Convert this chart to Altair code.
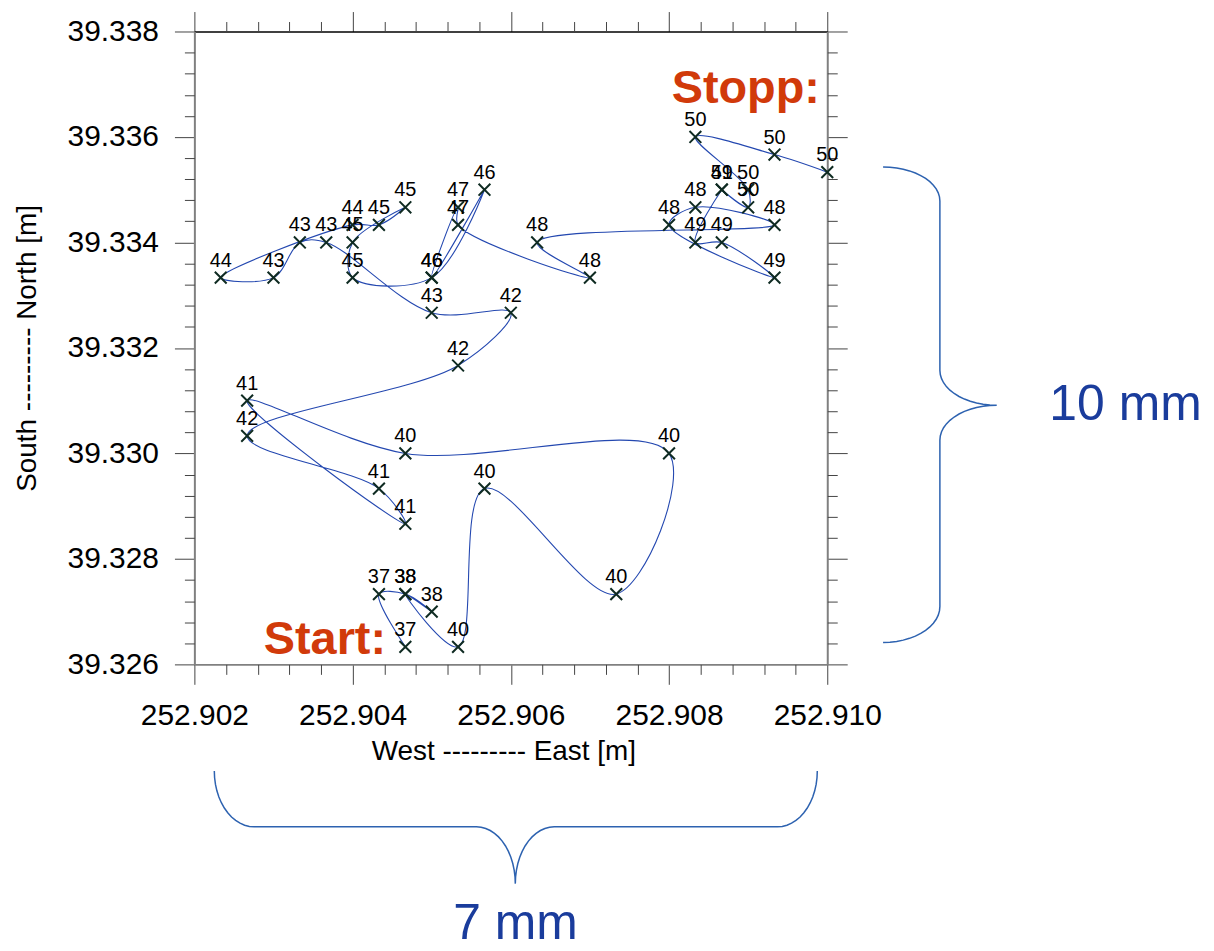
import altair as alt
import pandas as pd
import numpy as np

# ---------------- data ----------------
track_x = [252.904667, 252.904333, 252.904667, 252.905000, 252.904667,
           252.905333, 252.905667, 252.907333, 252.908000, 252.904667,
           252.902667, 252.904667, 252.904333,
           252.902667, 252.905333, 252.906000,
           252.905000, 252.903667, 252.903333, 252.903000,
           252.902333, 252.904000,
           252.904333, 252.904667, 252.904000, 252.904000,
           252.905000, 252.905667, 252.905000,
           252.905333, 252.905333,
           252.907000, 252.906333, 252.909333, 252.908333, 252.908000,
           252.909333, 252.908667, 252.908333, 252.908667,
           252.908667, 252.909000, 252.909000, 252.908333, 252.909333, 252.910000]
track_y = [39.326333, 39.327333, 39.327333, 39.327000, 39.327333,
           39.326333, 39.329333, 39.327333, 39.330000, 39.330000,
           39.331000, 39.328667, 39.329333,
           39.330333, 39.331667, 39.332667,
           39.332667, 39.334000, 39.334000, 39.333333,
           39.333333, 39.334333,
           39.334333, 39.334667, 39.334000, 39.333333,
           39.333333, 39.335000, 39.333333,
           39.334667, 39.334333,
           39.333333, 39.334000, 39.334333, 39.334667, 39.334333,
           39.333333, 39.334000, 39.334000, 39.335000,
           39.335000, 39.334667, 39.335000, 39.336000, 39.335667, 39.335333]
track_label = ["37", "37", "38", "38", "38",
               "40", "40", "40", "40", "40",
               "41", "41", "41",
               "42", "42", "42",
               "43", "43", "43", "43",
               "44", "44",
               "45", "45", "45", "45",
               "46", "46", "46",
               "47", "47",
               "48", "48", "48", "48", "48",
               "49", "49", "49", "49",
               "51", "50", "50", "50", "50", "50"]

x_major = [252.902, 252.904, 252.906, 252.908, 252.910]
x_minor = [252.9024, 252.9028, 252.9032, 252.9036, 252.9044, 252.9048, 252.9052,
           252.9056, 252.9064, 252.9068, 252.9072, 252.9076, 252.9084, 252.9088,
           252.9092, 252.9096]
y_major = [39.326, 39.328, 39.330, 39.332, 39.334, 39.336, 39.338]
y_minor = [39.3264, 39.3268, 39.3272, 39.3276, 39.3284, 39.3288, 39.3292, 39.3296,
           39.3304, 39.3308, 39.3312, 39.3316, 39.3324, 39.3328, 39.3332, 39.3336,
           39.3344, 39.3348, 39.3352, 39.3356, 39.3364, 39.3368, 39.3372, 39.3376]

ann_text = ["Start:", "Stopp:"]
ann_x = [252.90365, 252.90897]
ann_y = [39.32647, 39.33690]

dim_text = ["10 mm", "7 mm"]
dim_x = [252.91377, 252.90606]
dim_y = [39.33091, 39.32107]

FONT = "Liberation Sans"
W, H = 635, 635
X0, X1 = 252.902, 252.910
Y0, Y1 = 39.326, 39.338


# ---------------- brace decoration (page pixel -> data units) ----------------
def to_data(px, py):
    return X0 + (px - 195) / W * (X1 - X0), Y1 - (py - 30) / H * (Y1 - Y0)


t = np.linspace(0, np.pi / 2, 14)
right_px = np.concatenate([
    np.c_[886 + 57 * np.sin(t), 200 - 34 * np.cos(t)],
    np.c_[1000 - 57 * np.cos(t), 370 + 35 * np.sin(t)],
    np.c_[1000 - 57 * np.sin(t), 440 - 35 * np.cos(t)],
    np.c_[886 + 57 * np.cos(t), 607 + 36 * np.sin(t)],
])
bottom_px = np.concatenate([
    np.c_[255 - 40 * np.cos(t), 772 + 56 * np.sin(t)],
    np.c_[478 + 39 * np.sin(t), 885 - 57 * np.cos(t)],
    np.c_[556 - 39 * np.cos(t), 885 - 57 * np.sin(t)],
    np.c_[780 + 40 * np.sin(t), 772 + 56 * np.cos(t)],
])
rows = []
for bid, arr in (("r", right_px), ("b", bottom_px)):
    for i, (px, py) in enumerate(arr):
        dx, dy = to_data(px, py)
        rows.append({"x": dx, "y": dy, "brace": bid, "order": i})
brace_df = pd.DataFrame(rows)

df = pd.DataFrame({"x": track_x, "y": track_y, "t": track_label,
                   "order": list(range(len(track_x)))})
ann_df = pd.DataFrame({"x": ann_x, "y": ann_y, "text": ann_text})
dim_df = pd.DataFrame({"x": dim_x, "y": dim_y, "text": dim_text})

XS = alt.Scale(domain=[X0, X1], nice=False, zero=False)
YS = alt.Scale(domain=[Y0, Y1], nice=False, zero=False)

TICK_COLOR = "#444444"
DOMAIN_COLOR = "#808080"

ax_bottom = alt.Axis(orient="bottom", values=x_major, format=".3f", tickSize=20,
                     tickColor=TICK_COLOR, tickWidth=1, domainColor=DOMAIN_COLOR,
                     domainWidth=2, grid=False, labelFont=FONT, labelFontSize=30,
                     labelColor="black", labelPadding=16, labelFlush=False,
                     labelOverlap=False, labelBound=False,
                     title="West --------- East [m]", titleFont=FONT, titleFontSize=28,
                     titleFontWeight="normal", titleColor="black", titleX=310, titleY=87,
                     titleAlign="center", titleBaseline="middle")
ax_left = alt.Axis(orient="left", values=y_major, format=".3f", tickSize=20,
                   tickColor=TICK_COLOR, tickWidth=1, domainColor=DOMAIN_COLOR,
                   domainWidth=2, grid=False, labelFont=FONT, labelFontSize=30,
                   labelColor="black", labelPadding=16, labelFlush=False,
                   labelOverlap=False, labelBound=False,
                   title="South --------- North [m]", titleFont=FONT, titleFontSize=28,
                   titleFontWeight="normal", titleColor="black", titleX=-167,
                   titleY=317.5, titleAngle=270, titleAlign="center",
                   titleBaseline="middle")
ax_bottom_minor = alt.Axis(orient="bottom", values=x_minor, tickSize=10,
                           tickColor=TICK_COLOR, labels=False, domain=False,
                           grid=False, title=None)
ax_left_minor = alt.Axis(orient="left", values=y_minor, tickSize=10,
                         tickColor=TICK_COLOR, labels=False, domain=False,
                         grid=False, title=None)
ax_top = alt.Axis(orient="top", values=x_major, tickSize=20, tickColor=TICK_COLOR,
                  labels=False, domain=True, domainColor="black", domainWidth=1.5,
                  grid=False, title=None)
ax_right = alt.Axis(orient="right", values=y_major, tickSize=20, tickColor=TICK_COLOR,
                    labels=False, domain=True, domainColor=DOMAIN_COLOR, domainWidth=2,
                    grid=False, title=None)
ax_top_minor = alt.Axis(orient="top", values=x_minor, tickSize=10, tickColor=TICK_COLOR,
                        labels=False, domain=False, grid=False, title=None)
ax_right_minor = alt.Axis(orient="right", values=y_minor, tickSize=10,
                          tickColor=TICK_COLOR, labels=False, domain=False,
                          grid=False, title=None)

line = alt.Chart(df).mark_line(color="#2448b0", strokeWidth=1.1,
                               interpolate="catmull-rom", clip=False).encode(
    x=alt.X("x:Q", scale=XS, axis=ax_bottom),
    y=alt.Y("y:Q", scale=YS, axis=ax_left),
    order="order:Q",
)

points = alt.Chart(df).mark_point(shape="M -1 -1 L 1 1 M -1 1 L 1 -1", size=140,
                                  strokeWidth=2, color="#0f2b22", filled=False,
                                  opacity=1, clip=False).encode(
    x=alt.X("x:Q", scale=XS, axis=ax_bottom_minor),
    y=alt.Y("y:Q", scale=YS, axis=ax_left_minor),
)

labels = alt.Chart(df).mark_text(font=FONT, fontSize=20, dy=-17, color="black",
                                 baseline="middle", align="center", clip=False).encode(
    x=alt.X("x:Q", scale=XS, axis=ax_top),
    y=alt.Y("y:Q", scale=YS, axis=ax_right),
    text="t:N",
)

ann = alt.Chart(ann_df).mark_text(font=FONT, fontSize=47, fontWeight="bold",
                                  color="#d13a0a", baseline="middle", align="center",
                                  clip=False).encode(
    x=alt.X("x:Q", scale=XS, axis=ax_top_minor),
    y=alt.Y("y:Q", scale=YS, axis=ax_right_minor),
    text="text:N",
)

braces = alt.Chart(brace_df).mark_line(color="#2d62b0", strokeWidth=1.5,
                                       clip=False).encode(
    x=alt.X("x:Q", scale=XS, axis=None),
    y=alt.Y("y:Q", scale=YS, axis=None),
    detail="brace:N",
    order="order:Q",
)

dims = alt.Chart(dim_df).mark_text(font=FONT, fontSize=50, color="#1a3c9c",
                                   baseline="middle", align="center",
                                   clip=False).encode(
    x=alt.X("x:Q", scale=XS, axis=None),
    y=alt.Y("y:Q", scale=YS, axis=None),
    text="text:N",
)

chart = alt.layer(line, points, labels, ann, braces, dims).resolve_axis(
    x="independent", y="independent"
).properties(
    width=W, height=H,
    autosize=alt.AutoSizeParams(type="none"),
    padding={"left": 187, "top": 22, "right": 380, "bottom": 284},
).configure_view(stroke=None)

chart.save("out.html", embed_options={"renderer": "svg", "actions": False})
